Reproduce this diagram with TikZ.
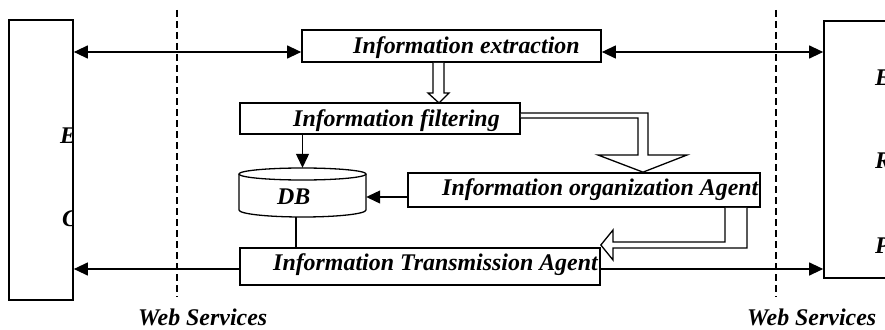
\documentclass[tikz,border=0pt]{standalone}
\usepackage{fontspec}
\setmainfont{Liberation Serif}
\usetikzlibrary{arrows.meta}
\tikzset{
  box/.style={draw, line width=1.7pt, rectangle, inner sep=0pt, fill=white},
  lbl/.style={anchor=base west, inner sep=0pt,
    font=\fontsize{23.9}{26}\selectfont\bfseries\itshape},
  conn/.style={line width=1.2pt, -{Triangle[length=14pt,width=13pt]}},
  biconn/.style={line width=1.2pt, {Triangle[length=14pt,width=13pt]}-{Triangle[length=14pt,width=13pt]}},
  hollow/.style={line width=1.3pt, fill=white, line join=miter},
  divider/.style={line width=1.1pt, dash pattern=on 7pt off 4pt},
}
\begin{document}
\begin{tikzpicture}[x=1pt, y=-1pt]
\useasboundingbox (0,0) rectangle (885,329);
\clip (0,0) rectangle (885,329);

% web service boundaries
\draw[divider] (177,10) -- (177,297);
\draw[divider] (776,10) -- (776,297);

% outer parties
\node[box, minimum width=64pt, minimum height=280pt] (left) at (41,160) {};
\node[box, minimum width=76pt, minimum height=257pt] (right) at (862,149.5) {};
\begin{scope}
  \clip (left.south west) rectangle (left.north east);
  \node[lbl] (lE) at (60,143) {E};
  \node[lbl] (lC) at (62,226) {C};
\end{scope}
\node[lbl] (rE) at (875,85) {E};
\node[lbl] (rR) at (875,168) {R};
\node[lbl] (rP) at (875,253) {P};

% processing stages
\node[box, minimum width=299pt, minimum height=32pt] (ext) at (451.5,46) {};
\node[box, minimum width=280pt, minimum height=31pt] (filt) at (380,118.5) {};
\node[box, minimum width=352pt, minimum height=34pt] (org) at (584,190) {};
\node[box, minimum width=360pt, minimum height=37pt] (trans) at (420,266.5) {};
\node[lbl] (extT) at (353,53) {Information extraction};
\node[lbl] (filtT) at (293,126) {Information filtering};
\node[lbl] (orgT) at (442,195) {Information organization Agent};
\node[lbl] (transT) at (273,270) {Information Transmission Agent};

% database cylinder
\node[inner sep=0pt, minimum width=127pt, minimum height=49pt] (db) at (302.5,192.5) {};
\draw[line width=1.3pt, fill=white]
  (239,174) -- (239,210) arc[start angle=180, end angle=360, x radius=63.5pt, y radius=7pt]
  -- (366,174);
\draw[line width=1.3pt] (302.5,174) ellipse[x radius=63.5pt, y radius=6pt];
\node[lbl] (dbT) at (277,204) {DB};

% plain connectors
\draw[biconn] (left.east |- 0,52) -- (ext.west |- 0,52);
\draw[biconn] (ext.east |- 0,52) -- (right.west |- 0,52);
\draw[conn] (filt.south -| db.north) -- (db.north);
\draw[conn] (org.west |- 0,197) -- (db.east |- 0,197);
\draw[line width=1.2pt] (296,0 |- db.south) -- (296,0 |- trans.north);
\draw[conn] (trans.west |- 0,269) -- (left.east |- 0,269);
\draw[conn] (trans.east |- 0,269) -- (right.west |- 0,269);

% hollow flow arrows
\draw[hollow] (433,0 |- ext.south) -- (433,93) -- (428,93) -- (439,103)
  -- (449,93) -- (444,93) -- (444,0 |- ext.south);
\draw[hollow] (filt.east |- 0,113) -- (648,113) -- (648,155) -- (687,155)
  -- (643,0 |- org.north) -- (598,155) -- (638,155) -- (638,118) -- (filt.east |- 0,118);
\draw[hollow] (747,0 |- org.south) -- (747,248) -- (613,248) -- (613,260)
  -- (trans.east |- 0,245) -- (613,230) -- (613,242) -- (725,242) -- (725,0 |- org.south);

% service labels
\node[lbl] (ws1) at (138,325) {Web Services};
\node[lbl] (ws2) at (747,325) {Web Services};
\end{tikzpicture}
\end{document}
